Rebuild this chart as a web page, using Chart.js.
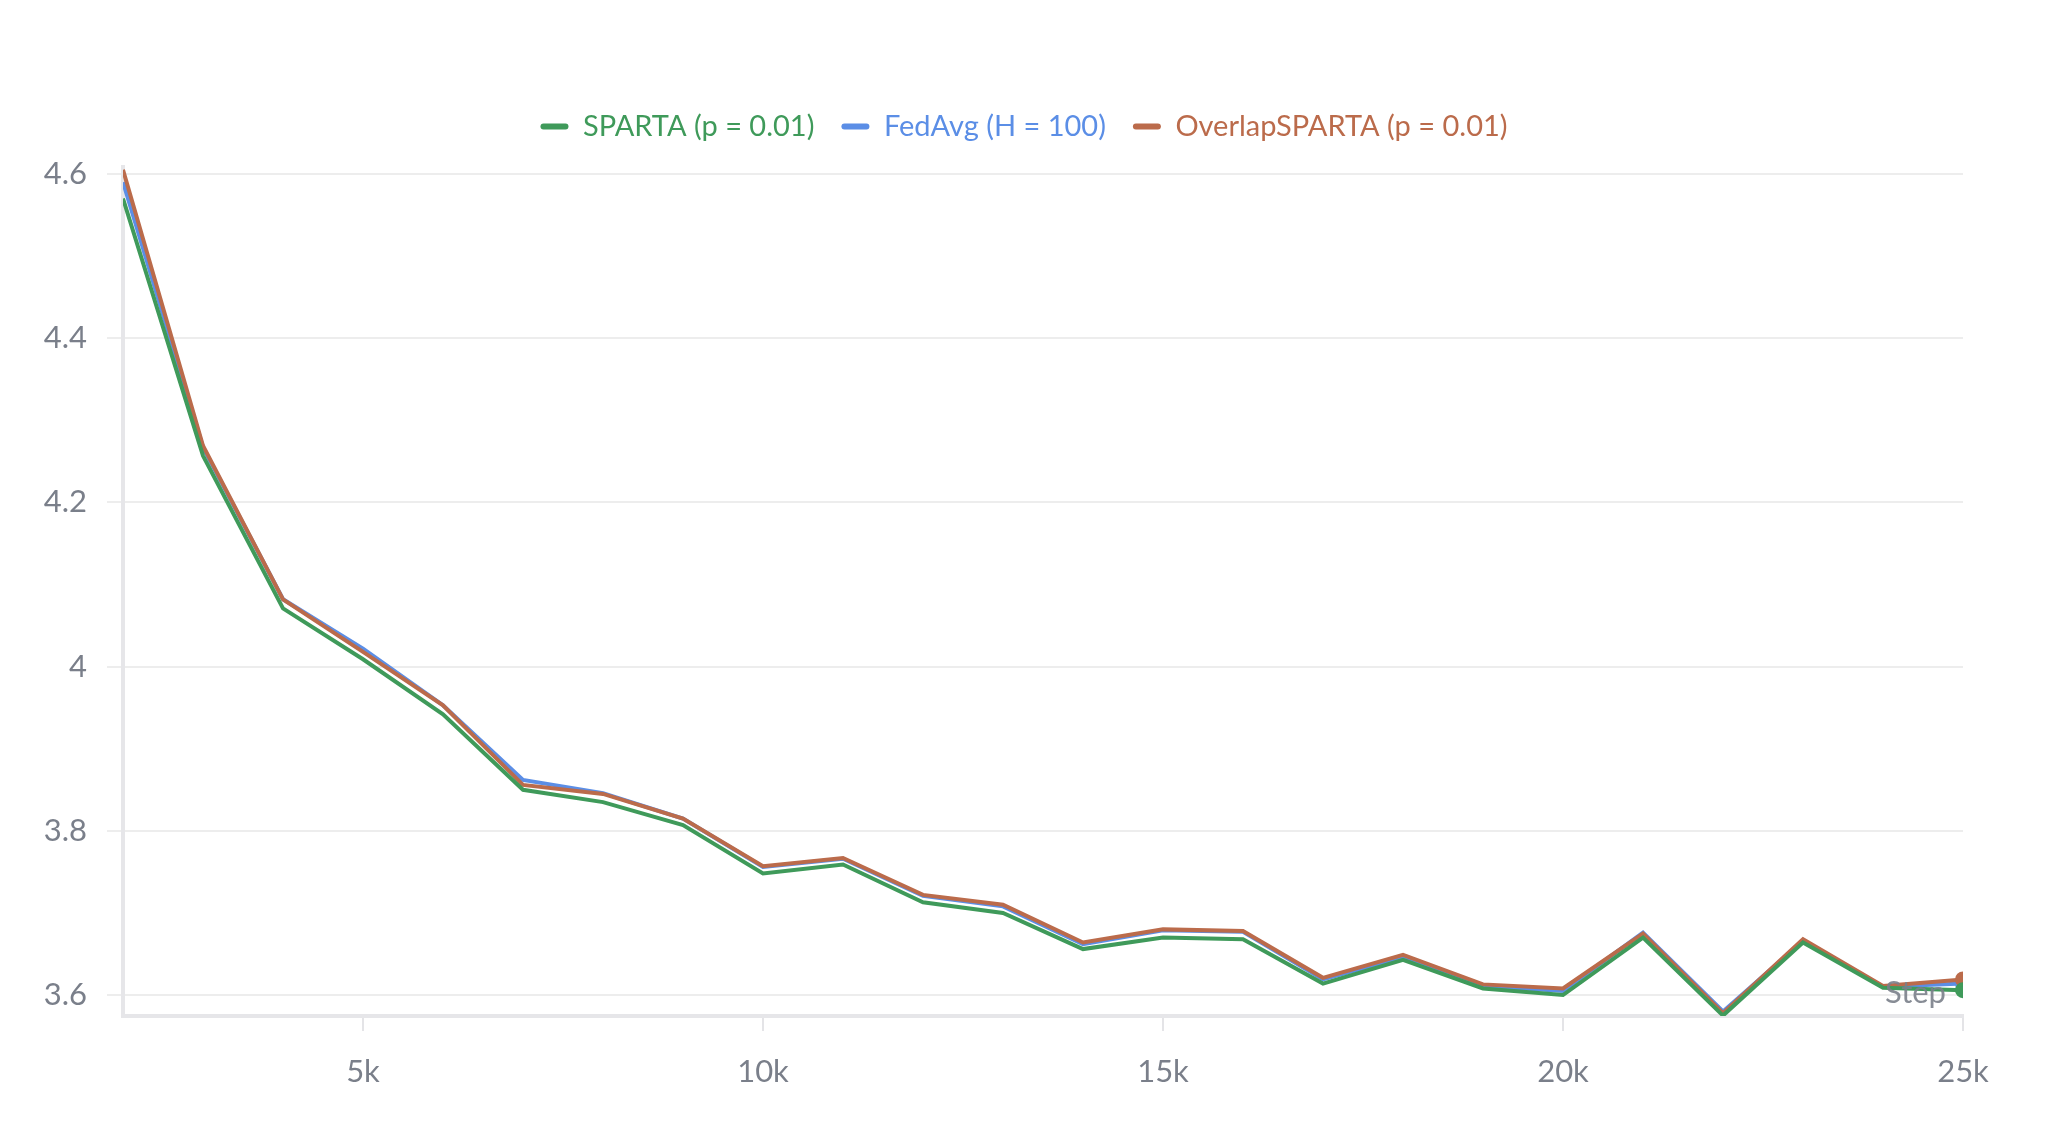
<!DOCTYPE html>
<html>
<head>
<meta charset="utf-8">
<script src="https://cdn.jsdelivr.net/npm/chart.js@4.4.1/dist/chart.umd.min.js"></script>
<style>
  html, body { margin: 0; padding: 0; background: #fff; }
  #chart { display: block; }
</style>
</head>
<body>
<canvas id="chart" width="2048" height="1131"></canvas>
<script>
// Steps (x values)
const steps = [2000, 3000, 4000, 5000, 6000, 7000, 8000, 9000, 10000, 11000, 12000, 13000,
  14000, 15000, 16000, 17000, 18000, 19000, 20000, 21000, 22000, 23000, 24000, 25000];

// Loss values
const spartaLoss = [4.570, 4.257, 4.071, 4.009, 3.942, 3.850, 3.835, 3.807, 3.748, 3.759, 3.713, 3.700,
  3.656, 3.670, 3.668, 3.614, 3.643, 3.608, 3.600, 3.670, 3.575, 3.664, 3.609, 3.606];
const fedavgLoss = [4.590, 4.267, 4.082, 4.022, 3.953, 3.862, 3.846, 3.815, 3.756, 3.766, 3.721, 3.708,
  3.662, 3.679, 3.677, 3.619, 3.646, 3.611, 3.605, 3.676, 3.580, 3.666, 3.610, 3.614];
const overlapLoss = [4.605, 4.269, 4.082, 4.018, 3.953, 3.856, 3.845, 3.815, 3.757, 3.767, 3.722, 3.710,
  3.664, 3.680, 3.678, 3.621, 3.649, 3.613, 3.608, 3.675, 3.578, 3.668, 3.611, 3.619];

const seriesNames = ['SPARTA (p = 0.01)', 'FedAvg (H = 100)', 'OverlapSPARTA (p = 0.01)'];
const seriesColors = ['#3f9a5a', '#5b8ee6', '#bb6b4b'];

const xTicks = [5000, 10000, 15000, 20000, 25000];
const yTicks = [3.6, 3.8, 4, 4.2, 4.4, 4.6];

const fontFamily = 'Lato, "Noto Sans", sans-serif';
const tickColor = '#7a7f8a';

function toPoints(values) {
    return values.map((v, i) => ({ x: steps[i], y: v }));
}

// Dot only on the last point of each run
function endDot(ctx) {
    return ctx.dataIndex === steps.length - 1 ? 6 : 0;
}

// "Step" label sits inside the plot, bottom right
const stepLabel = {
    id: 'stepLabel',
    afterDatasetsDraw(chart) {
        const { ctx, chartArea } = chart;
        ctx.save();
        ctx.font = '31px ' + fontFamily;
        ctx.fillStyle = 'rgba(122,127,138,0.9)';
        ctx.textAlign = 'right';
        ctx.textBaseline = 'middle';
        ctx.fillText('Step', chartArea.right - 17, chartArea.bottom - 23);
        ctx.restore();
    }
};

// Leave a bit more room between the legend and the plot
const legendNudge = {
    id: 'legendNudge',
    afterLayout(chart) {
        chart.legend.top -= 16;
        chart.legend.bottom -= 16;
    }
};

const datasets = [spartaLoss, fedavgLoss, overlapLoss].map((values, i) => ({
    label: seriesNames[i],
    data: toPoints(values),
    borderColor: seriesColors[i],
    backgroundColor: seriesColors[i],
    borderWidth: 4,
    pointRadius: endDot,
    pointHoverRadius: 0,
    tension: 0,
    fill: false,
    order: [0, 2, 1][i]
}));

const chart = new Chart(document.getElementById('chart').getContext('2d'), {
    type: 'line',
    data: { datasets },
    options: {
        responsive: false,
        animation: false,
        devicePixelRatio: 1,
        layout: { padding: { left: 0, right: 0, top: 70, bottom: 0 } },
        plugins: {
            tooltip: { enabled: false },
            legend: {
                position: 'top',
                labels: {
                    boxWidth: 28,
                    boxHeight: 6,
                    padding: 27,
                    font: { family: fontFamily, size: 29 },
                    generateLabels(chart) {
                        return chart.data.datasets.map((ds, i) => ({
                            text: ds.label,
                            fillStyle: ds.borderColor,
                            strokeStyle: ds.borderColor,
                            fontColor: ds.borderColor,
                            lineWidth: 0,
                            borderRadius: 3,
                            datasetIndex: i,
                            hidden: false
                        }));
                    }
                }
            }
        },
        scales: {
            x: {
                type: 'linear',
                min: 2000,
                max: 25000,
                afterBuildTicks(scale) {
                    scale.ticks = xTicks.map(v => ({ value: v }));
                },
                afterFit(scale) {
                    scale.height = 115;
                    scale.paddingRight = 85;
                },
                ticks: {
                    color: tickColor,
                    font: { family: fontFamily, size: 31 },
                    padding: 22,
                    maxRotation: 0,
                    callback: v => (v / 1000) + 'k'
                },
                grid: {
                    drawOnChartArea: false,
                    drawTicks: true,
                    tickLength: 15,
                    color: '#e4e4e7',
                    lineWidth: 2
                },
                border: { color: '#e6e6e9', width: 4 }
            },
            y: {
                type: 'linear',
                min: 3.5745,
                max: 4.6085,
                afterBuildTicks(scale) {
                    scale.ticks = yTicks.map(v => ({ value: v }));
                },
                afterFit(scale) {
                    scale.width = 123;
                    scale.paddingTop = 167;
                },
                ticks: {
                    color: tickColor,
                    font: { family: fontFamily, size: 31 },
                    padding: 20,
                    callback: v => String(v)
                },
                grid: {
                    color: '#ededed',
                    lineWidth: 2,
                    tickLength: 16
                },
                border: { color: '#e6e6e9', width: 4 }
            }
        }
    },
    plugins: [stepLabel, legendNudge]
});
</script>
</body>
</html>
